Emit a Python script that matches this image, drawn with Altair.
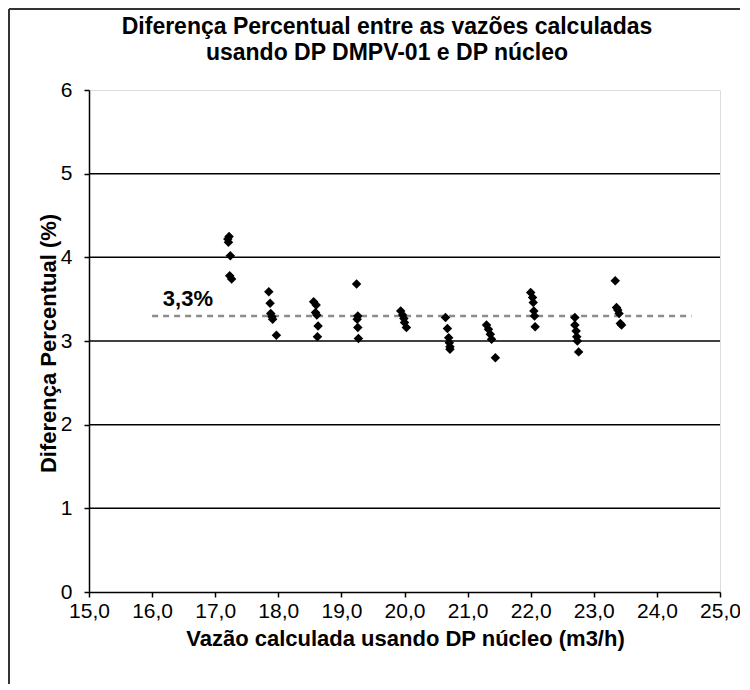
import altair as alt
import pandas as pd

# Data
vazao = [
    17.22, 17.20, 17.21, 17.24, 17.23, 17.26,
    17.85, 17.87, 17.88, 17.90, 17.91, 17.97,
    18.56, 18.60, 18.59, 18.61, 18.63, 18.62,
    19.24, 19.26, 19.25, 19.26, 19.27,
    19.94, 19.97, 19.99, 20.00, 20.03,
    20.65, 20.68, 20.70, 20.71, 20.72, 20.72,
    21.30, 21.33, 21.36, 21.38, 21.44,
    22.00, 22.03, 22.04, 22.05, 22.06, 22.07,
    22.70, 22.70, 22.72, 22.73, 22.74, 22.76,
    23.34, 23.36, 23.38, 23.40, 23.42, 23.44,
]
diferenca = [
    4.25, 4.22, 4.18, 4.02, 3.78, 3.74,
    3.59, 3.45, 3.33, 3.29, 3.26, 3.07,
    3.47, 3.43, 3.34, 3.31, 3.18, 3.05,
    3.68, 3.30, 3.26, 3.16, 3.03,
    3.36, 3.31, 3.27, 3.22, 3.16,
    3.28, 3.15, 3.04, 2.98, 2.93, 2.90,
    3.19, 3.14, 3.08, 3.02, 2.80,
    3.58, 3.52, 3.46, 3.36, 3.30, 3.17,
    3.28, 3.19, 3.12, 3.05, 3.00, 2.87,
    3.72, 3.40, 3.37, 3.33, 3.21, 3.19,
]
media_x = [16.0, 24.55]
media_y = [3.3, 3.3]
media_label = "3,3%"
grid_values = [1, 2, 3, 4, 5]
x_ticks = [15, 16, 17, 18, 19, 20, 21, 22, 23, 24, 25]
y_ticks = [0, 1, 2, 3, 4, 5, 6]

title_lines = ["Diferença Percentual entre as vazões calculadas", "usando DP DMPV-01 e DP núcleo"]
x_title = "Vazão calculada usando DP núcleo (m3/h)"
y_title = "Diferença Percentual (%)"

FONT = "Liberation Sans"
W, H = 631, 502

pts = pd.DataFrame({"x": vazao, "y": diferenca})
media = pd.DataFrame({"x": media_x, "y": media_y})
grid = pd.DataFrame({"y": grid_values})
lab = pd.DataFrame({"x": [16.17], "y": [3.5], "t": [media_label]})
one = pd.DataFrame({"a": [0]})

xscale = alt.Scale(domain=[15, 25], nice=False, zero=False)
yscale = alt.Scale(domain=[0, 6], nice=False)

xaxis = alt.Axis(
    values=x_ticks, grid=False, title=x_title, labelFlush=False,
    labelExpr="replace(format(datum.value, '.1f'), '.', ',')",
    labelFont=FONT, labelFontSize=21, labelColor="#000", labelPadding=3,
    tickColor="#000", tickSize=5, domainColor="#000", domainWidth=1.5, tickWidth=1.5,
    titleFont=FONT, titleFontSize=22, titleFontWeight="bold", titleColor="#000",
    titleX=316, titleY=46, titleBaseline="middle", titleAnchor="middle", titleAlign="center",
)
yaxis = alt.Axis(
    values=y_ticks, grid=False, title=y_title, format="d", labelFlush=False,
    labelFont=FONT, labelFontSize=21, labelColor="#000", labelPadding=12,
    tickColor="#000", tickSize=5, domainColor="#000", domainWidth=1.5, tickWidth=1.5,
    titleFont=FONT, titleFontSize=22, titleFontWeight="bold", titleColor="#000",
    titleX=-41, titleY=253, titleAngle=-90, titleBaseline="middle", titleAlign="center",
)

gridlines = alt.Chart(grid).mark_rule(color="#000", strokeWidth=1.5).encode(
    y=alt.Y("y:Q", scale=yscale, axis=yaxis),
)
dash = alt.Chart(media).mark_line(color="#8c8c8c", strokeWidth=2.5, strokeDash=[6, 5]).encode(
    x=alt.X("x:Q", scale=xscale, axis=xaxis),
    y=alt.Y("y:Q", scale=yscale),
)
points = alt.Chart(pts).mark_point(shape="diamond", filled=True, color="#000", size=90, opacity=1).encode(
    x=alt.X("x:Q", scale=xscale),
    y=alt.Y("y:Q", scale=yscale),
)
label = alt.Chart(lab).mark_text(font=FONT, fontSize=22, fontWeight="bold", align="left", baseline="middle", color="#000").encode(
    x=alt.X("x:Q", scale=xscale),
    y=alt.Y("y:Q", scale=yscale),
    text="t:N",
)
title1 = alt.Chart(one).mark_text(text=title_lines[0], font=FONT, fontSize=23, fontWeight="bold", align="center",
                                  baseline="middle", color="#000", clip=False).encode(
    x=alt.value(298), y=alt.value(-63),
)
title2 = alt.Chart(one).mark_text(text=title_lines[1], font=FONT, fontSize=23, fontWeight="bold", align="center",
                                  baseline="middle", color="#000", clip=False).encode(
    x=alt.value(298), y=alt.value(-37),
)
border = alt.Chart(one).mark_rule(color="#333", strokeWidth=2, clip=False).encode(
    x=alt.value(-80), x2=alt.value(W + 40), y=alt.value(-81)
)
border_l = alt.Chart(one).mark_rule(color="#333", strokeWidth=2, clip=False).encode(
    x=alt.value(-80), y=alt.value(-81), y2=alt.value(H + 100)
)

chart = alt.layer(gridlines, dash, points, label, title1, title2, border, border_l).properties(
    width=W, height=H,
    autosize=alt.AutoSizeParams(type="none"),
    padding={"left": 81, "top": 82, "right": 20, "bottom": 92},
).configure_view(stroke="#999", strokeWidth=1.5).configure(background="white")

chart.save("out.html", embed_options={"renderer": "svg", "actions": False})
